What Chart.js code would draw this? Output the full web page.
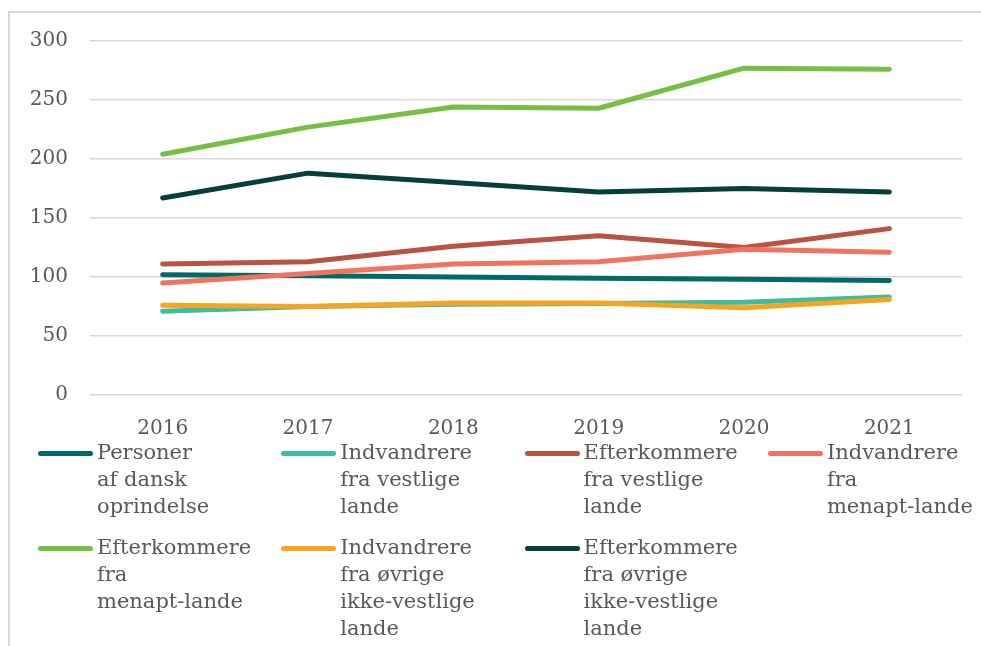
<!DOCTYPE html>
<html lang="da">
<head>
<meta charset="utf-8">
<title>Linjediagram 2016-2021</title>
<script src="https://cdn.jsdelivr.net/npm/chart.js@4/dist/chart.umd.min.js"></script>
<style>
    html, body { margin: 0; padding: 0; background: #ffffff; }
    body { width: 981px; height: 646px; position: relative; overflow: hidden; font-family: "DejaVu Serif", serif; }
    #ramme { position: absolute; left: 8px; top: 11px; width: 990px; height: 660px; border-top: 2px solid #d9d9d9; border-left: 2px solid #d9d9d9; }
    #chart-wrap { position: absolute; left: 0; top: 0; width: 981px; height: 440px; }
    #legende { position: absolute; left: 38px; top: 439px; display: grid; grid-template-columns: repeat(4, 243.3px); row-gap: 14px; }
    .item { display: flex; align-items: flex-start; font-size: 21px; line-height: 27px; color: #595959; white-space: nowrap; }
    .streg { width: 55px; height: 5px; border-radius: 3px; margin-top: 11.5px; margin-right: 4px; flex: none; }
</style>
</head>
<body>
<div id="ramme"></div>
<div id="chart-wrap"><canvas id="chart-linjer"></canvas></div>
<div id="legende"></div>

<script>
// Kategorier (år)
const aar = ['2016', '2017', '2018', '2019', '2020', '2021'];

// Serier
const personerDansk      = [102, 101, 100, 99, 98, 97];
const indvVestlige       = [71, 75, 77, 77.5, 78.5, 83];
const efterkVestlige     = [111, 113, 126, 135, 125, 141];
const indvMenapt         = [95, 103, 111, 113, 123.5, 121];
const efterkMenapt       = [204, 227, 244, 243, 277, 276];
const indvOevrige        = [76, 75, 78, 78, 74, 81];
const efterkOevrige      = [167, 188, 180, 172, 175, 172];

// Legendetekster (linjeskift som i originalen)
const navne = [
    ['Personer', 'af dansk', 'oprindelse'],
    ['Indvandrere', 'fra vestlige', 'lande'],
    ['Efterkommere', 'fra vestlige', 'lande'],
    ['Indvandrere', 'fra', 'menapt-lande'],
    ['Efterkommere', 'fra', 'menapt-lande'],
    ['Indvandrere', 'fra øvrige', 'ikke-vestlige', 'lande'],
    ['Efterkommere', 'fra øvrige', 'ikke-vestlige', 'lande']
];

const farver = ['#006b66', '#3dbd9c', '#b85441', '#f27260', '#77bf44', '#f7a520', '#043f3c'];

// Y-akse
const yTicks = [0, 50, 100, 150, 200, 250, 300];

const serier = [personerDansk, indvVestlige, efterkVestlige, indvMenapt, efterkMenapt, indvOevrige, efterkOevrige];

const datasets = serier.map((data, i) => ({
    label: navne[i].join(' '),
    data: data,
    borderColor: farver[i],
    backgroundColor: farver[i],
    borderWidth: 5,
    borderCapStyle: 'round',
    borderJoinStyle: 'round',
    pointRadius: 0,
    tension: 0,
    order: serier.length - 1 - i // senere serier tegnes øverst
}));

const tickFont = { family: '"DejaVu Serif", serif', size: 20 };

new Chart(document.getElementById('chart-linjer'), {
    type: 'line',
    data: { labels: aar, datasets: datasets },
    options: {
        responsive: true,
        maintainAspectRatio: false,
        animation: false,
        layout: { padding: { left: 10, right: 19, top: 41, bottom: 0 } },
        plugins: {
            legend: { display: false },
            tooltip: { enabled: false }
        },
        scales: {
            x: {
                offset: true,
                grid: { display: false },
                border: { display: false },
                ticks: { color: '#595959', font: tickFont, padding: 14, maxRotation: 0 },
                afterFit: s => { s.height = 45; }
            },
            y: {
                min: 0,
                max: 300,
                afterBuildTicks: s => { s.ticks = yTicks.map(v => ({ value: v })); },
                grid: { color: '#d9d9d9', lineWidth: 1.5, drawTicks: false },
                border: { display: false },
                ticks: { color: '#595959', font: tickFont, padding: 22 },
                afterFit: s => { s.width = 80; }
            }
        }
    }
});

// Legende under diagrammet
const legende = document.getElementById('legende');
navne.forEach((linjer, i) => {
    const item = document.createElement('div');
    item.className = 'item';
    const streg = document.createElement('span');
    streg.className = 'streg';
    streg.style.background = farver[i];
    const tekst = document.createElement('span');
    tekst.innerHTML = linjer.join('<br>');
    item.appendChild(streg);
    item.appendChild(tekst);
    legende.appendChild(item);
});
</script>
</body>
</html>
